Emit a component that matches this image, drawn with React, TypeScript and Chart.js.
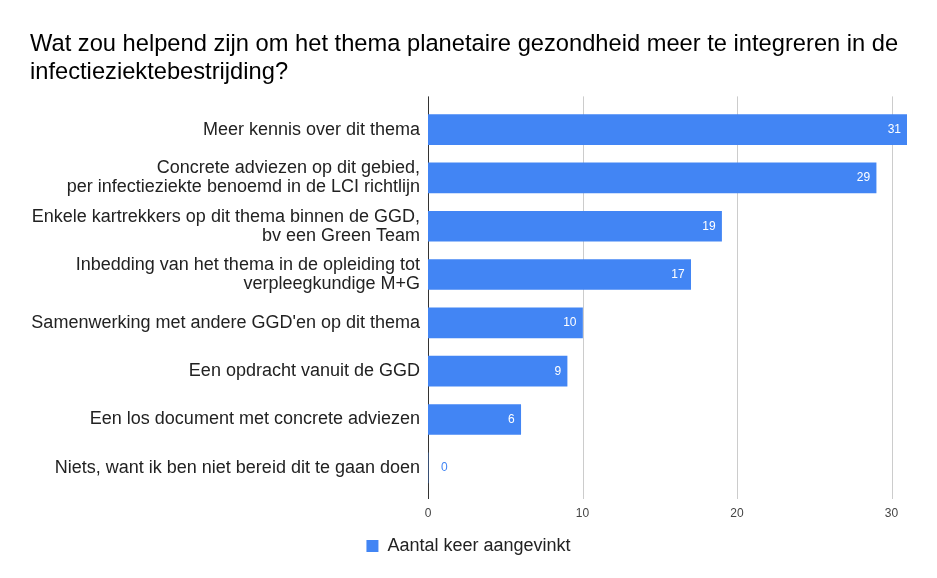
import React, { useEffect, useRef } from "react";
import { Chart, registerables } from "chart.js";

Chart.register(...registerables);

const titleLines = [
  "Wat zou helpend zijn om het thema planetaire gezondheid meer te integreren in de",
  "infectieziektebestrijding?",
];

const categories: (string | string[])[] = [
  "Meer kennis over dit thema",
  ["Concrete adviezen op dit gebied,", "per infectieziekte benoemd in de LCI richtlijn"],
  ["Enkele kartrekkers op dit thema binnen de GGD,", "bv een Green Team"],
  ["Inbedding van het thema in de opleiding tot", "verpleegkundige M+G"],
  "Samenwerking met andere GGD'en op dit thema",
  "Een opdracht vanuit de GGD",
  "Een los document met concrete adviezen",
  "Niets, want ik ben niet bereid dit te gaan doen",
];

const seriesName = "Aantal keer aangevinkt";
const values = [31, 29, 19, 17, 10, 9, 6, 0];
const xTicks = [0, 10, 20, 30];

const FONT = "'Liberation Sans', Arial, sans-serif";
const BLUE = "#4285f4";

const gridPlugin = {
  id: "extGrid",
  beforeDatasetsDraw(chart: any) {
    const { ctx, chartArea, scales } = chart;
    const xs = scales.x;
    ctx.save();
    ctx.lineWidth = 1;
    xs.ticks.forEach((t: any) => {
      const px = Math.round(xs.getPixelForValue(t.value)) + 0.5;
      ctx.strokeStyle = t.value === 0 ? "#333333" : "#cccccc";
      ctx.beginPath();
      ctx.moveTo(px, chartArea.top - 9);
      ctx.lineTo(px, chartArea.bottom + 7);
      ctx.stroke();
    });
    ctx.restore();
  },
};

const labelPlugin = {
  id: "barLabels",
  afterDatasetsDraw(chart: any) {
    const { ctx } = chart;
    const meta = chart.getDatasetMeta(0);
    ctx.save();
    ctx.font = `12px ${FONT}`;
    ctx.textBaseline = "middle";
    meta.data.forEach((bar: any, i: number) => {
      const v = values[i];
      if (v > 0) {
        ctx.fillStyle = "#ffffff";
        ctx.textAlign = "right";
        ctx.fillText(String(v), bar.x - 6, bar.y);
      } else {
        ctx.fillStyle = BLUE;
        ctx.textAlign = "left";
        ctx.fillText(String(v), bar.x + 13, bar.y);
      }
    });
    ctx.restore();
  },
};

export default function App() {
  const ref = useRef<HTMLCanvasElement>(null);
  useEffect(() => {
    document.body.style.margin = "0";
    document.body.style.overflow = "hidden";
    const chart = new Chart(ref.current!, {
      type: "bar",
      data: {
        labels: categories,
        datasets: [
          {
            label: seriesName,
            data: values,
            backgroundColor: BLUE,
            borderWidth: 0,
            barThickness: 30,
          },
        ],
      },
      options: {
        indexAxis: "y",
        animation: false,
        responsive: false,
        layout: { padding: { left: 30, right: 30, top: 0, bottom: 13 } },
        plugins: {
          title: {
            display: true,
            text: titleLines,
            align: "start",
            color: "#000000",
            font: { family: FONT, size: 23.7, weight: "normal", lineHeight: 1.19 },
            padding: { top: 30, bottom: 19 },
          },
          legend: {
            position: "bottom",
            labels: {
              boxWidth: 12,
              boxHeight: 12,
              color: "#222222",
              font: { family: FONT, size: 18 },
            },
          },
          tooltip: { enabled: false },
        },
        scales: {
          x: {
            type: "linear",
            min: 0,
            max: 31,
            grid: { display: false, drawTicks: false },
            border: { display: false },
            afterBuildTicks: (s: any) => {
              s.ticks = xTicks.map((v) => ({ value: v }));
            },
            afterFit: (s: any) => {
              s.height = 35;
            },
            ticks: {
              padding: 14,
              color: "#444444",
              font: { family: FONT, size: 12 },
              maxRotation: 0,
            },
          },
          y: {
            grid: { display: false, drawTicks: false },
            border: { display: false },
            afterFit: (s: any) => {
              s.width = 398;
            },
            ticks: {
              padding: 8,
              color: "#222222",
              font: { family: FONT, size: 18, lineHeight: 1.05 },
              autoSkip: false,
            },
          },
        },
      },
      plugins: [gridPlugin, labelPlugin],
    });
    return () => chart.destroy();
  }, []);
  return (
    <div style={{ width: 937, height: 578 }}>
      <canvas ref={ref} width={937} height={578} style={{ width: 937, height: 578, display: "block" }} />
    </div>
  );
}
